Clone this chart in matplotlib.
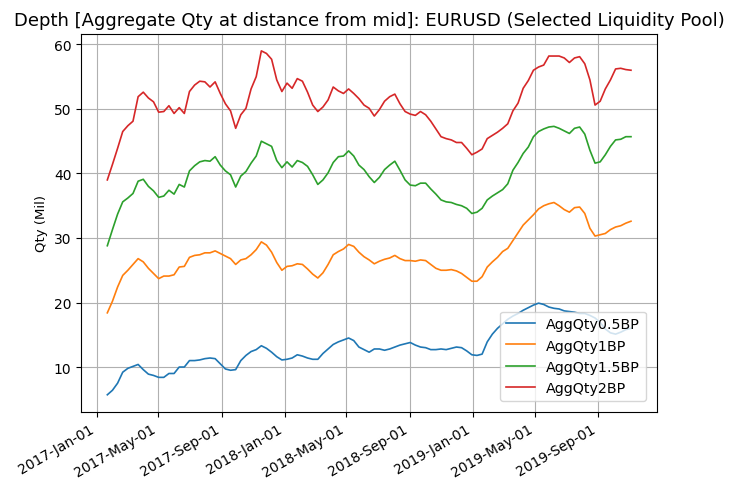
import numpy as np
import pandas as pd
import matplotlib
matplotlib.use('Agg')
import matplotlib.pyplot as plt
import matplotlib.dates as mdates

# roughly 10-day samples
datas = pd.date_range('2017-01-22', '2019-11-04', periods=103)

agg_05 = [5.7, 6.4, 7.5, 9.2, 9.8, 10.1, 10.4, 9.6, 8.9, 8.7,
          8.4, 8.4, 9.0, 9.0, 10.0, 10.0, 11.0, 11.0, 11.1, 11.3,
          11.4, 11.3, 10.5, 9.7, 9.5, 9.6, 11.0, 11.8, 12.4, 12.7,
          13.3, 12.9, 12.3, 11.6, 11.1, 11.2, 11.4, 11.9, 11.7, 11.4,
          11.2, 11.2, 12.1, 12.8, 13.5, 13.9, 14.2, 14.5, 14.1, 13.1,
          12.7, 12.3, 12.8, 12.8, 12.6, 12.8, 13.1, 13.4, 13.6, 13.8,
          13.4, 13.1, 13.0, 12.7, 12.7, 12.8, 12.7, 12.9, 13.1, 13.0,
          12.5, 11.9, 11.8, 12.0, 13.9, 15.1, 16.0, 16.7, 17.4, 17.9,
          18.3, 18.8, 19.2, 19.6, 19.9, 19.7, 19.3, 19.1, 19.0, 18.7,
          18.6, 18.5, 18.3, 18.3, 18.0, 17.6, 16.9, 15.9, 15.3, 15.1,
          15.4, 15.8, 16.0]

agg_1 = [18.4, 20.2, 22.4, 24.2, 25.0, 25.9, 26.8, 26.3, 25.3, 24.5,
         23.7, 24.1, 24.1, 24.3, 25.5, 25.6, 27.0, 27.3, 27.4, 27.7,
         27.7, 28.0, 27.6, 27.2, 26.8, 25.9, 26.6, 26.8, 27.4, 28.2,
         29.4, 28.9, 27.8, 26.2, 25.0, 25.6, 25.7, 26.0, 25.9, 25.2,
         24.4, 23.8, 24.6, 25.9, 27.4, 27.9, 28.3, 29.0, 28.7, 27.8,
         27.1, 26.6, 26.0, 26.4, 26.7, 26.9, 27.3, 26.8, 26.5, 26.5,
         26.4, 26.6, 26.5, 25.9, 25.3, 25.0, 25.0, 25.1, 24.9, 24.5,
         23.9, 23.3, 23.3, 24.0, 25.5, 26.3, 27.0, 27.9, 28.4, 29.6,
         30.8, 32.0, 32.8, 33.6, 34.5, 35.0, 35.3, 35.5, 35.0, 34.4,
         34.0, 34.7, 34.8, 33.8, 31.5, 30.3, 30.5, 30.7, 31.3, 31.7,
         31.9, 32.3, 32.6]

agg_15 = [28.8, 31.3, 33.7, 35.6, 36.2, 36.9, 38.8, 39.1, 38.0, 37.3,
          36.3, 36.5, 37.4, 36.8, 38.3, 37.9, 40.4, 41.2, 41.8, 42.0,
          41.9, 42.6, 41.3, 40.4, 39.8, 37.9, 39.6, 40.3, 41.6, 42.7,
          45.0, 44.6, 44.2, 42.0, 40.9, 41.8, 41.0, 42.0, 41.7, 41.1,
          39.8, 38.3, 39.0, 40.1, 41.7, 42.6, 42.7, 43.5, 42.7, 41.3,
          40.6, 39.5, 38.6, 39.4, 40.6, 41.3, 41.9, 40.5, 39.0, 38.2,
          38.1, 38.5, 38.5, 37.6, 36.8, 35.9, 35.6, 35.5, 35.2, 35.0,
          34.6, 33.8, 34.0, 34.6, 35.9, 36.5, 37.0, 37.5, 38.4, 40.5,
          41.7, 43.1, 44.1, 45.7, 46.5, 46.9, 47.2, 47.3, 47.0, 46.6,
          46.2, 47.0, 47.2, 46.1, 43.6, 41.6, 41.8, 42.9, 44.2, 45.2,
          45.3, 45.7, 45.7]

agg_2 = [39.0, 41.4, 43.9, 46.5, 47.4, 48.1, 51.9, 52.6, 51.7, 51.1,
         49.5, 49.6, 50.5, 49.3, 50.2, 49.3, 52.7, 53.7, 54.3, 54.2,
         53.4, 54.2, 52.4, 50.8, 49.7, 47.0, 49.1, 50.1, 53.1, 55.0,
         59.0, 58.6, 57.7, 54.5, 52.7, 54.0, 53.2, 54.7, 54.3, 52.6,
         50.6, 49.6, 50.3, 51.4, 53.4, 52.8, 52.4, 53.1, 52.4, 51.6,
         50.6, 50.1, 48.9, 49.9, 51.2, 51.9, 52.3, 50.8, 49.6, 49.2,
         49.0, 49.6, 49.1, 48.1, 46.9, 45.7, 45.4, 45.2, 44.8, 44.8,
         43.9, 42.9, 43.3, 43.8, 45.4, 45.9, 46.4, 47.0, 47.7, 49.7,
         50.9, 53.2, 54.4, 56.0, 56.5, 56.8, 58.2, 58.2, 58.2, 57.9,
         57.2, 57.9, 58.1, 57.0, 54.5, 50.6, 51.2, 53.1, 54.5, 56.2,
         56.3, 56.1, 56.0]

nomes = ['AggQty0.5BP', 'AggQty1BP', 'AggQty1.5BP', 'AggQty2BP']

df = pd.DataFrame({nomes[0]: agg_05, nomes[1]: agg_1,
                   nomes[2]: agg_15, nomes[3]: agg_2}, index=datas)

fig = plt.figure(figsize=(7.31, 4.85), dpi=100)
ax = fig.add_axes([0.111, 0.1485, 0.788, 0.78])

for nome in nomes:
    ax.plot(df.index, df[nome], label=nome, linewidth=1.2)

ax.xaxis.set_major_locator(mdates.MonthLocator(bymonth=(1, 5, 9)))
ax.xaxis.set_major_formatter(mdates.DateFormatter('%Y-%b-%d'))
for lbl in ax.get_xticklabels():
    lbl.set_rotation(30)
    lbl.set_horizontalalignment('right')
ax.tick_params(labelsize=10)

ax.set_title('Depth [Aggregate Qty at distance from mid]: EURUSD (Selected Liquidity Pool)',
             fontsize=13)
ax.set_ylabel('Qty (Mil)', fontsize=9.5)
ax.grid(True)
ax.legend(loc='lower right', fontsize=10.3, borderaxespad=0.8)

plt.savefig('out.png', dpi=100)
